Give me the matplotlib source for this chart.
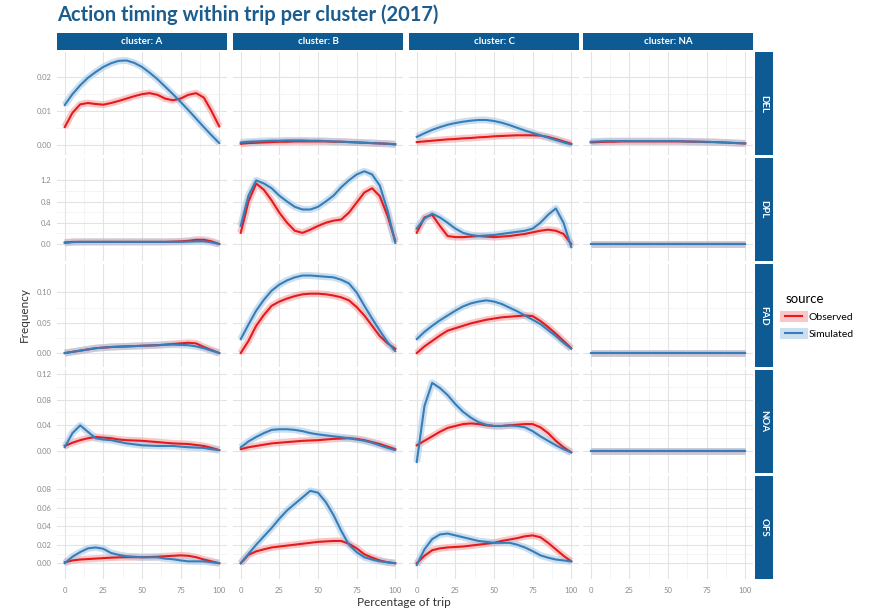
import matplotlib
matplotlib.use("Agg")
import matplotlib.pyplot as plt
from matplotlib.lines import Line2D

plt.rcParams['font.family'] = ['Lato', 'DejaVu Sans']

# percentage of trip (x) shared by every curve
pct = [0, 5, 10, 15, 20, 25, 30, 35, 40, 45, 50, 55, 60, 65, 70, 75, 80, 85, 90, 95, 100]

clusters = ["A", "B", "C", "NA"]
actions = ["DEL", "DPL", "FAD", "NOA", "OFS"]

# ---- DEL ----
del_a_obs = [0.0053, 0.0095, 0.0120, 0.0124, 0.0121, 0.0119, 0.0124, 0.0130, 0.0137, 0.0144, 0.0150,
             0.0153, 0.0148, 0.0137, 0.0132, 0.0137, 0.0148, 0.0153, 0.0140, 0.0100, 0.0055]
del_a_sim = [0.0118, 0.0150, 0.0176, 0.0198, 0.0215, 0.0230, 0.0241, 0.0248, 0.0249, 0.0242, 0.0230,
             0.0213, 0.0194, 0.0172, 0.0150, 0.0127, 0.0103, 0.0078, 0.0053, 0.0029, 0.0006]
del_b_obs = [0.0004, 0.0006, 0.0007, 0.0008, 0.0009, 0.0010, 0.0010, 0.0011, 0.0011, 0.0011, 0.0011,
             0.0011, 0.0010, 0.0010, 0.0009, 0.0008, 0.0007, 0.0006, 0.0005, 0.0004, 0.0002]
del_b_sim = [0.0008, 0.0010, 0.0011, 0.0012, 0.0013, 0.0013, 0.0014, 0.0014, 0.0014, 0.0013, 0.0013,
             0.0012, 0.0011, 0.0010, 0.0009, 0.0008, 0.0007, 0.0006, 0.0005, 0.0004, 0.0003]
del_c_obs = [0.0009, 0.0011, 0.0013, 0.0015, 0.0017, 0.0018, 0.0020, 0.0021, 0.0023, 0.0024, 0.0026,
             0.0027, 0.0028, 0.0029, 0.0029, 0.0029, 0.0028, 0.0024, 0.0018, 0.0011, 0.0004]
del_c_sim = [0.0024, 0.0035, 0.0045, 0.0053, 0.0060, 0.0065, 0.0069, 0.0072, 0.0074, 0.0074, 0.0071,
             0.0066, 0.0059, 0.0051, 0.0043, 0.0036, 0.0029, 0.0022, 0.0015, 0.0008, 0.0002]
del_na_obs = [0.0008, 0.0009, 0.0010, 0.0010, 0.0011, 0.0011, 0.0011, 0.0011, 0.0011, 0.0011, 0.0011,
              0.0011, 0.0011, 0.0010, 0.0010, 0.0009, 0.0009, 0.0008, 0.0007, 0.0006, 0.0005]
del_na_sim = [0.0010, 0.0011, 0.0012, 0.0012, 0.0012, 0.0012, 0.0012, 0.0012, 0.0012, 0.0012, 0.0012,
              0.0012, 0.0011, 0.0011, 0.0010, 0.0010, 0.0009, 0.0008, 0.0007, 0.0006, 0.0005]

# ---- DPL ----
dpl_a_obs = [0.03, 0.04, 0.04, 0.04, 0.04, 0.04, 0.04, 0.04, 0.04, 0.04, 0.04,
             0.04, 0.04, 0.04, 0.045, 0.05, 0.06, 0.08, 0.08, 0.05, 0.0]
dpl_a_sim = [0.02, 0.035, 0.04, 0.04, 0.04, 0.04, 0.04, 0.04, 0.04, 0.04, 0.04,
             0.04, 0.04, 0.04, 0.04, 0.04, 0.045, 0.05, 0.05, 0.03, 0.0]
dpl_b_obs = [0.21, 0.80, 1.14, 1.02, 0.82, 0.59, 0.40, 0.25, 0.21, 0.27, 0.34,
             0.40, 0.44, 0.46, 0.59, 0.78, 0.97, 1.05, 0.90, 0.53, 0.06]
dpl_b_sim = [0.34, 0.91, 1.20, 1.14, 1.05, 0.91, 0.80, 0.70, 0.65, 0.65, 0.70,
             0.80, 0.91, 1.07, 1.20, 1.31, 1.37, 1.31, 1.10, 0.63, 0.02]
dpl_c_obs = [0.21, 0.50, 0.55, 0.34, 0.15, 0.13, 0.13, 0.14, 0.15, 0.14, 0.13,
             0.14, 0.15, 0.17, 0.19, 0.22, 0.25, 0.27, 0.25, 0.19, 0.0]
dpl_c_sim = [0.29, 0.48, 0.57, 0.50, 0.40, 0.29, 0.21, 0.17, 0.15, 0.16, 0.17,
             0.19, 0.21, 0.23, 0.25, 0.29, 0.40, 0.55, 0.67, 0.40, -0.06]
dpl_na_obs = [0.0] * 21
dpl_na_sim = [0.0] * 21

# ---- FAD ----
fad_a_obs = [0.0, 0.002, 0.004, 0.006, 0.008, 0.009, 0.010, 0.0105, 0.011, 0.0115, 0.012,
             0.0125, 0.013, 0.014, 0.015, 0.016, 0.017, 0.016, 0.010, 0.005, 0.0]
fad_a_sim = [0.0, 0.002, 0.004, 0.006, 0.008, 0.009, 0.010, 0.0105, 0.011, 0.0115, 0.012,
             0.0125, 0.013, 0.0135, 0.014, 0.0135, 0.013, 0.011, 0.008, 0.004, 0.0]
fad_b_obs = [0.0, 0.020, 0.045, 0.063, 0.078, 0.085, 0.090, 0.094, 0.097, 0.098, 0.098,
             0.097, 0.095, 0.092, 0.087, 0.076, 0.062, 0.045, 0.028, 0.016, 0.007]
fad_b_sim = [0.023, 0.047, 0.070, 0.088, 0.103, 0.113, 0.120, 0.125, 0.128, 0.128, 0.127,
             0.126, 0.125, 0.121, 0.115, 0.100, 0.078, 0.057, 0.037, 0.018, 0.003]
fad_c_obs = [0.0, 0.011, 0.020, 0.029, 0.037, 0.041, 0.045, 0.049, 0.052, 0.055, 0.057,
             0.059, 0.060, 0.061, 0.062, 0.061, 0.053, 0.043, 0.032, 0.020, 0.008]
fad_c_sim = [0.023, 0.035, 0.045, 0.054, 0.062, 0.070, 0.077, 0.082, 0.085, 0.087, 0.085,
             0.081, 0.075, 0.069, 0.062, 0.055, 0.048, 0.038, 0.028, 0.017, 0.007]
fad_na_obs = [0.0] * 21
fad_na_sim = [0.0] * 21

# ---- NOA ----
noa_a_obs = [0.008, 0.013, 0.017, 0.020, 0.022, 0.021, 0.020, 0.018, 0.017, 0.0165, 0.016,
             0.015, 0.014, 0.013, 0.012, 0.0115, 0.011, 0.0095, 0.008, 0.005, 0.0015]
noa_a_sim = [0.006, 0.028, 0.040, 0.030, 0.020, 0.018, 0.017, 0.0145, 0.012, 0.0105, 0.009,
             0.0085, 0.008, 0.008, 0.008, 0.007, 0.006, 0.0055, 0.005, 0.003, 0.0015]
noa_b_obs = [0.003, 0.006, 0.008, 0.010, 0.012, 0.013, 0.014, 0.015, 0.016, 0.0165, 0.017,
             0.018, 0.019, 0.0195, 0.020, 0.019, 0.017, 0.014, 0.011, 0.007, 0.003]
noa_b_sim = [0.006, 0.015, 0.022, 0.028, 0.033, 0.034, 0.034, 0.033, 0.031, 0.028, 0.026,
             0.0245, 0.023, 0.0215, 0.020, 0.018, 0.016, 0.013, 0.009, 0.005, 0.0015]
noa_c_obs = [0.009, 0.016, 0.023, 0.030, 0.036, 0.039, 0.042, 0.043, 0.042, 0.040, 0.039,
             0.039, 0.040, 0.041, 0.042, 0.042, 0.037, 0.028, 0.016, 0.006, -0.002]
noa_c_sim = [-0.017, 0.070, 0.106, 0.098, 0.087, 0.073, 0.061, 0.052, 0.045, 0.041, 0.039,
             0.039, 0.040, 0.039, 0.037, 0.031, 0.023, 0.016, 0.009, 0.003, -0.002]
noa_na_obs = [0.0] * 21
noa_na_sim = [0.0] * 21

# ---- OFS ----
ofs_a_obs = [0.001, 0.003, 0.004, 0.0045, 0.005, 0.0055, 0.006, 0.0063, 0.0065, 0.0065, 0.0065,
             0.0067, 0.007, 0.0075, 0.008, 0.0085, 0.008, 0.0065, 0.004, 0.002, 0.0]
ofs_a_sim = [0.0, 0.007, 0.012, 0.016, 0.017, 0.0155, 0.011, 0.009, 0.0075, 0.007, 0.0064,
             0.0064, 0.0064, 0.005, 0.0043, 0.003, 0.002, 0.002, 0.002, 0.001, 0.0]
ofs_b_obs = [0.0, 0.009, 0.0128, 0.015, 0.017, 0.018, 0.019, 0.020, 0.021, 0.022, 0.023,
             0.0235, 0.024, 0.024, 0.021, 0.016, 0.0096, 0.006, 0.003, 0.001, 0.0]
ofs_b_sim = [0.0, 0.010, 0.020, 0.029, 0.038, 0.048, 0.057, 0.064, 0.071, 0.078, 0.076,
             0.066, 0.052, 0.035, 0.020, 0.012, 0.0064, 0.004, 0.002, 0.001, 0.0]
ofs_c_obs = [0.0, 0.008, 0.014, 0.016, 0.017, 0.0175, 0.018, 0.019, 0.020, 0.021, 0.022,
             0.024, 0.0255, 0.027, 0.029, 0.030, 0.028, 0.022, 0.015, 0.008, 0.002]
ofs_c_sim = [-0.002, 0.015, 0.026, 0.031, 0.032, 0.030, 0.028, 0.026, 0.024, 0.023, 0.022,
             0.022, 0.022, 0.020, 0.017, 0.013, 0.0085, 0.006, 0.004, 0.003, 0.002]
ofs_na_obs = None  # empty panel
ofs_na_sim = None

series = {
    "DEL": [(del_a_obs, del_a_sim), (del_b_obs, del_b_sim), (del_c_obs, del_c_sim), (del_na_obs, del_na_sim)],
    "DPL": [(dpl_a_obs, dpl_a_sim), (dpl_b_obs, dpl_b_sim), (dpl_c_obs, dpl_c_sim), (dpl_na_obs, dpl_na_sim)],
    "FAD": [(fad_a_obs, fad_a_sim), (fad_b_obs, fad_b_sim), (fad_c_obs, fad_c_sim), (fad_na_obs, fad_na_sim)],
    "NOA": [(noa_a_obs, noa_a_sim), (noa_b_obs, noa_b_sim), (noa_c_obs, noa_c_sim), (noa_na_obs, noa_na_sim)],
    "OFS": [(ofs_a_obs, ofs_a_sim), (ofs_b_obs, ofs_b_sim), (ofs_c_obs, ofs_c_sim), (ofs_na_obs, ofs_na_sim)],
}

# y-axis ticks per row (free y scale per row)
yticks = {
    "DEL": [0.0, 0.01, 0.02],
    "DPL": [0.0, 0.4, 0.8, 1.2],
    "FAD": [0.0, 0.05, 0.10],
    "NOA": [0.0, 0.04, 0.08, 0.12],
    "OFS": [0.0, 0.02, 0.04, 0.06, 0.08],
}
ytick_fmt = {"DEL": "{:.2f}", "DPL": "{:.1f}", "FAD": "{:.2f}", "NOA": "{:.2f}", "OFS": "{:.2f}"}
ylims = {
    "DEL": (-0.0029, 0.0274),
    "DPL": (-0.32, 1.62),
    "FAD": (-0.023, 0.147),
    "NOA": (-0.034, 0.126),
    "OFS": (-0.017, 0.094),
}
xticks = [0, 25, 50, 75, 100]

RED = "#E41A1C"
BLUE = "#377EB8"
RED_BAND = "#F5A3A4"
BLUE_BAND = "#A9CBE6"
STRIP = "#0E5A93"
GRID = "#E3E3E3"
TICK = "#8A8A8A"

W, H = 871, 611
fig = plt.figure(figsize=(W / 100, H / 100), dpi=100)


def fx(px):
    return px / W


def fy(py):
    return 1 - py / H


def strip_axes(rect, label, rot):
    sax = fig.add_axes(rect)
    sax.set_facecolor(STRIP)
    sax.set_xticks([])
    sax.set_yticks([])
    for s in sax.spines.values():
        s.set_visible(False)
    sax.text(0.5, 0.5, label, color="white", fontsize=7, fontweight="bold",
             rotation=rot, ha="center", va="center", transform=sax.transAxes)


col_left = [57, 233, 409, 583]
col_w = 170
row_top = [52, 158, 264, 370, 476]
row_h = 103

for r, act in enumerate(actions):
    for c, cl in enumerate(clusters):
        ax = fig.add_axes([fx(col_left[c]), fy(row_top[r] + row_h), col_w / W, row_h / H])
        ax.set_xlim(-5, 105)
        ax.set_ylim(*ylims[act])
        ax.set_xticks(xticks)
        ax.set_xticks([12.5, 37.5, 62.5, 87.5], minor=True)
        yt = yticks[act]
        ax.set_yticks(yt)
        ax.set_yticks([(a + b) / 2 for a, b in zip(yt[:-1], yt[1:])], minor=True)
        ax.grid(which="major", color=GRID, lw=0.8)
        ax.grid(which="minor", color="#F0F0F0", lw=0.5)
        ax.set_axisbelow(True)
        for s in ax.spines.values():
            s.set_visible(False)
        ax.tick_params(which="both", length=0, labelsize=5.5, labelcolor=TICK)
        ax.tick_params(axis="x", pad=6)
        ax.tick_params(axis="y", pad=4)
        if c == 0:
            ax.set_yticklabels([ytick_fmt[act].format(v) for v in yt])
        else:
            ax.set_yticklabels([])
        if r == len(actions) - 1:
            ax.set_xticklabels([str(v) for v in xticks])
        else:
            ax.set_xticklabels([])

        obs, sim = series[act][c]
        if obs is not None:
            ax.plot(pct, obs, color=RED_BAND, lw=5, alpha=0.6, solid_capstyle="butt")
            ax.plot(pct, sim, color=BLUE_BAND, lw=5, alpha=0.6, solid_capstyle="butt")
            ax.plot(pct, obs, color=RED, lw=1.5)
            ax.plot(pct, sim, color=BLUE, lw=1.5)

    # strip on the right of each row
    strip_axes([fx(755), fy(row_top[r] + row_h), 18 / W, row_h / H], act, 270)

# strips on top of each column
for c, cl in enumerate(clusters):
    strip_axes([fx(col_left[c]), fy(50), col_w / W, 17 / H], f"cluster: {cl}", 0)

fig.text(fx(57), fy(15), "Action timing within trip per cluster (2017)", fontsize=14.5,
         fontweight="bold", color="#1C5D8E", ha="left", va="center")
fig.text(fx(404), fy(603), "Percentage of trip", fontsize=8.5, color="#333333", ha="center", va="center")
fig.text(fx(24), fy(315), "Frequency", fontsize=8.5, color="#333333", rotation=90, ha="center", va="center")

handles = [
    (Line2D([], [], color=RED_BAND, lw=8, alpha=0.6), Line2D([], [], color=RED, lw=1.5)),
    (Line2D([], [], color=BLUE_BAND, lw=8, alpha=0.6), Line2D([], [], color=BLUE, lw=1.5)),
]
leg = fig.legend(handles, ["Observed", "Simulated"], title="source", loc="upper left",
                 bbox_to_anchor=(fx(776), fy(284)), frameon=False, fontsize=7.5,
                 title_fontsize=9.5, handlelength=1.6, labelspacing=0.7, handletextpad=0.6)
leg._legend_box.align = "left"

fig.savefig("out.png", dpi=100)
